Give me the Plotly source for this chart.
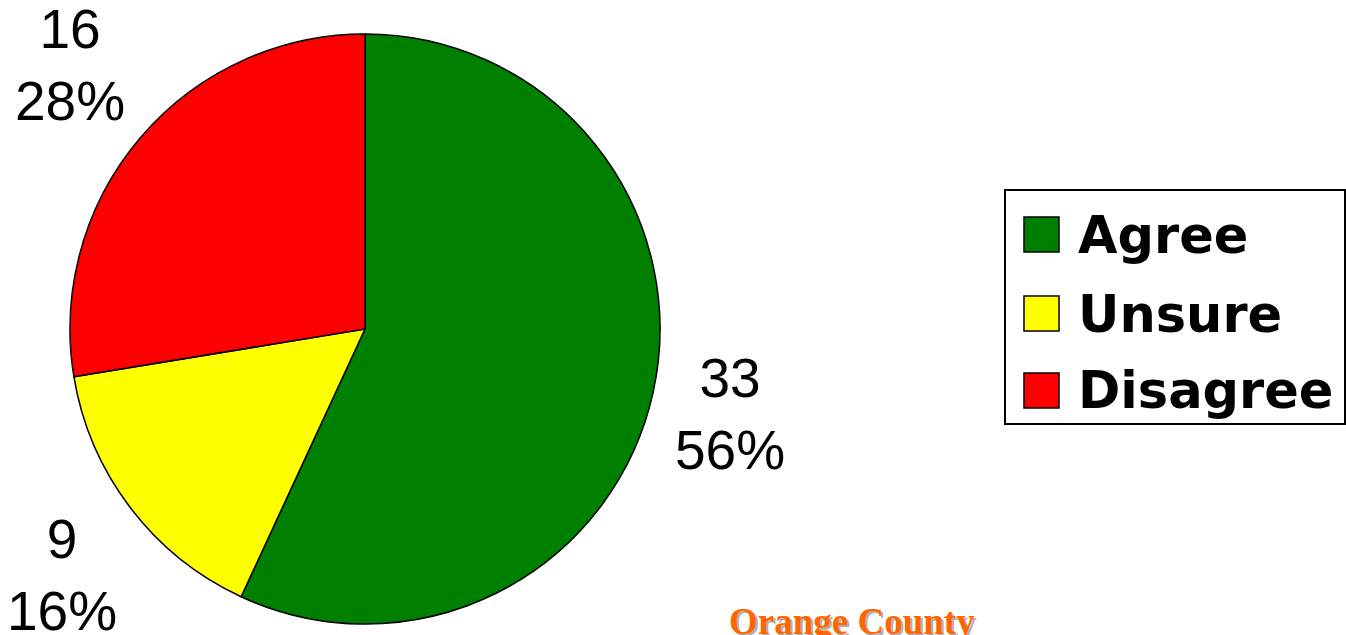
import plotly.graph_objects as go

categories = ["Agree", "Unsure", "Disagree"]
counts = [33, 9, 16]
percents = [56, 16, 28]
colors = ["#008000", "#FFFF00", "#FF0000"]
title_text = "Orange County"

W, H = 1346, 635

def px(x, y):
    return x / W, 1 - y / H

fig = go.Figure()
fig.add_trace(go.Pie(
    labels=categories,
    values=counts,
    sort=False,
    direction="clockwise",
    rotation=0,
    marker=dict(colors=colors, line=dict(color="black", width=1.5)),
    textinfo="none",
    hoverinfo="label+value+percent",
    showlegend=False,
    domain=dict(x=[70 / W, 660 / W], y=[1 - 624 / H, 1 - 34 / H]),
))

annotations = []
# slice value labels
label_pos = {"Agree": (730, 414), "Unsure": (62, 575), "Disagree": (70, 65)}
for cat, c, p in zip(categories, counts, percents):
    x, y = px(*label_pos[cat])
    annotations.append(dict(
        x=x, y=y, xref="paper", yref="paper", showarrow=False,
        text=f"{c}<br>{p}%", align="center",
        font=dict(family="Liberation Sans, Arial", size=55, color="black"),
        xanchor="center", yanchor="middle",
    ))

# custom legend
shapes = []
x0, y0 = px(1005, 190)
x1, y1 = px(1345, 424)
shapes.append(dict(type="rect", xref="paper", yref="paper", x0=x0, y0=y1, x1=x1, y1=y0,
                   line=dict(color="black", width=2), fillcolor="white", layer="below"))
row_y = [235, 314, 391]
for cat, col, ry in zip(categories, colors, row_y):
    sx0, sy0 = px(1024, ry - 18)
    sx1, sy1 = px(1059, ry + 17)
    shapes.append(dict(type="rect", xref="paper", yref="paper", x0=sx0, y0=sy1, x1=sx1, y1=sy0,
                       line=dict(color="black", width=1.5), fillcolor=col))
    tx, ty = px(1076, ry)
    annotations.append(dict(
        x=tx, y=ty, xref="paper", yref="paper", showarrow=False,
        text=f"<b>{cat}</b>", xanchor="left", yanchor="middle",
        font=dict(family="DejaVu Sans", size=51, color="black"),
    ))

# title with shadow
for dx, dy, col in [(2, 2, "#B0B0B0"), (0, 0, "#FF6600")]:
    tx, ty = px(852 + dx, 621 + dy)
    annotations.append(dict(
        x=tx, y=ty, xref="paper", yref="paper", showarrow=False,
        text=f"<b>{title_text}</b>", xanchor="center", yanchor="middle",
        font=dict(family="Liberation Serif, Times New Roman", size=37, color=col),
    ))

fig.update_layout(
    width=W, height=H,
    margin=dict(l=0, r=0, t=0, b=0),
    paper_bgcolor="white", plot_bgcolor="white",
    annotations=annotations, shapes=shapes,
)

fig.write_html("out.html", config={"displayModeBar": False},
               post_script="document.body.style.margin='0';document.body.style.overflow='hidden';")
